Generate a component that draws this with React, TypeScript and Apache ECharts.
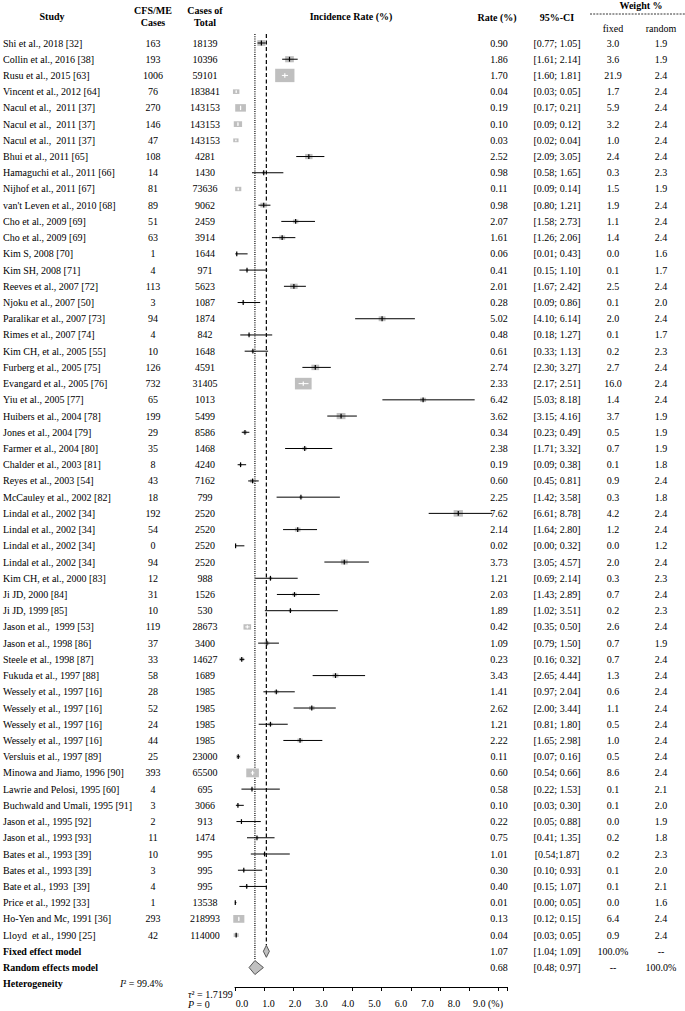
import React, { useEffect, useRef } from "react";
import * as echarts from "echarts";

// ---------------- data ----------------
const studies = [
  "Shi et al., 2018 [32]", "Collin et al., 2016 [38]", "Rusu et al., 2015 [63]", "Vincent et al., 2012 [64]",
  "Nacul et al.,  2011 [37]", "Nacul et al.,  2011 [37]", "Nacul et al.,  2011 [37]", "Bhui et al., 2011 [65]",
  "Hamaguchi et al., 2011 [66]", "Nijhof et al., 2011 [67]", "van't Leven et al., 2010 [68]", "Cho et al., 2009 [69]",
  "Cho et al., 2009 [69]", "Kim S, 2008 [70]", "Kim SH, 2008 [71]", "Reeves et al., 2007 [72]",
  "Njoku et al., 2007 [50]", "Paralikar et al., 2007 [73]", "Rimes et al., 2007 [74]", "Kim CH, et al., 2005 [55]",
  "Furberg et al., 2005 [75]", "Evangard et al., 2005 [76]", "Yiu et al., 2005 [77]", "Huibers et al., 2004 [78]",
  "Jones et al., 2004 [79]", "Farmer et al., 2004 [80]", "Chalder et al., 2003 [81]", "Reyes et al., 2003 [54]",
  "McCauley et al., 2002 [82]", "Lindal et al., 2002 [34]", "Lindal et al., 2002 [34]", "Lindal et al., 2002 [34]",
  "Lindal et al., 2002 [34]", "Kim CH, et al., 2000 [83]", "Ji JD, 2000 [84]", "Ji JD, 1999 [85]",
  "Jason et al.,  1999 [53]", "Jason et al., 1998 [86]", "Steele et al., 1998 [87]", "Fukuda et al., 1997 [88]",
  "Wessely et al., 1997 [16]", "Wessely et al., 1997 [16]", "Wessely et al., 1997 [16]", "Wessely et al., 1997 [16]",
  "Versluis et al., 1997 [89]", "Minowa and Jiamo, 1996 [90]", "Lawrie and Pelosi, 1995 [60]", "Buchwald and Umali, 1995 [91]",
  "Jason et al., 1995 [92]", "Jason et al., 1993 [93]", "Bates et al., 1993 [39]", "Bates et al., 1993 [39]",
  "Bate et al., 1993  [39]", "Price et al., 1992 [33]", "Ho-Yen and Mc, 1991 [36]", "Lloyd  et al., 1990 [25]",
];

const cfsCases = [163, 193, 1006, 76, 270, 146, 47, 108, 14, 81, 89, 51, 63, 1, 4, 113, 3, 94, 4, 10, 126, 732, 65, 199, 29, 35, 8, 43, 18, 192, 54, 0, 94, 12, 31, 10, 119, 37, 33, 58, 28, 52, 24, 44, 25, 393, 4, 3, 2, 11, 10, 3, 4, 1, 293, 42];

const totalCases = [18139, 10396, 59101, 183841, 143153, 143153, 143153, 4281, 1430, 73636, 9062, 2459, 3914, 1644, 971, 5623, 1087, 1874, 842, 1648, 4591, 31405, 1013, 5499, 8586, 1468, 4240, 7162, 799, 2520, 2520, 2520, 2520, 988, 1526, 530, 28673, 3400, 14627, 1689, 1985, 1985, 1985, 1985, 23000, 65500, 695, 3066, 913, 1474, 995, 995, 995, 13538, 218993, 114000];

const rates = [0.90, 1.86, 1.70, 0.04, 0.19, 0.10, 0.03, 2.52, 0.98, 0.11, 0.98, 2.07, 1.61, 0.06, 0.41, 2.01, 0.28, 5.02, 0.48, 0.61, 2.74, 2.33, 6.42, 3.62, 0.34, 2.38, 0.19, 0.60, 2.25, 7.62, 2.14, 0.02, 3.73, 1.21, 2.03, 1.89, 0.42, 1.09, 0.23, 3.43, 1.41, 2.62, 1.21, 2.22, 0.11, 0.60, 0.58, 0.10, 0.22, 0.75, 1.01, 0.30, 0.40, 0.01, 0.13, 0.04];

const ciLow = [0.77, 1.61, 1.60, 0.03, 0.17, 0.09, 0.02, 2.09, 0.58, 0.09, 0.80, 1.58, 1.26, 0.01, 0.15, 1.67, 0.09, 4.10, 0.18, 0.33, 2.30, 2.17, 5.03, 3.15, 0.23, 1.71, 0.09, 0.45, 1.42, 6.61, 1.64, 0.00, 3.05, 0.69, 1.43, 1.02, 0.35, 0.79, 0.16, 2.65, 0.97, 2.00, 0.81, 1.65, 0.07, 0.54, 0.22, 0.03, 0.05, 0.41, 0.54, 0.10, 0.15, 0.00, 0.12, 0.03];

const ciHigh = [1.05, 2.14, 1.81, 0.05, 0.21, 0.12, 0.04, 3.05, 1.65, 0.14, 1.21, 2.73, 2.06, 0.43, 1.10, 2.42, 0.86, 6.14, 1.27, 1.13, 3.27, 2.51, 8.18, 4.16, 0.49, 3.32, 0.38, 0.81, 3.58, 8.78, 2.80, 0.32, 4.57, 2.14, 2.89, 3.51, 0.50, 1.50, 0.32, 4.44, 2.04, 3.44, 1.80, 2.98, 0.16, 0.66, 1.53, 0.30, 0.88, 1.35, 1.87, 0.93, 1.07, 0.05, 0.15, 0.05];

const weightFixed = [3.0, 3.6, 21.9, 1.7, 5.9, 3.2, 1.0, 2.4, 0.3, 1.5, 1.9, 1.1, 1.4, 0.0, 0.1, 2.5, 0.1, 2.0, 0.1, 0.2, 2.7, 16.0, 1.4, 3.7, 0.5, 0.7, 0.1, 0.9, 0.3, 4.2, 1.2, 0.0, 2.0, 0.3, 0.7, 0.2, 2.6, 0.7, 0.7, 1.3, 0.6, 1.1, 0.5, 1.0, 0.5, 8.6, 0.1, 0.1, 0.0, 0.2, 0.2, 0.1, 0.1, 0.0, 6.4, 0.9];

const weightRandom = [1.9, 1.9, 2.4, 2.4, 2.4, 2.4, 2.4, 2.4, 2.3, 1.9, 2.4, 2.4, 2.4, 1.6, 1.7, 2.4, 2.0, 2.4, 1.7, 2.3, 2.4, 2.4, 2.4, 1.9, 1.9, 1.9, 1.8, 2.4, 1.8, 2.4, 2.4, 1.2, 2.4, 2.3, 2.4, 2.3, 2.4, 1.9, 2.4, 2.4, 2.4, 2.4, 2.4, 2.4, 2.4, 2.4, 2.1, 2.0, 1.9, 1.8, 2.3, 2.0, 2.1, 1.6, 2.4, 2.4];

const ciNoSpace = [50]; // "[0.54;1.87]" printed without space

const summaryLabels = ["Fixed effect model", "Random effects model"];
const summaryRates = [1.07, 0.68];
const summaryLow = [1.04, 0.48];
const summaryHigh = [1.09, 0.97];
const summaryWeightFixed = ["100.0%", "--"];
const summaryWeightRandom = ["--", "100.0%"];

const tickValues = [0, 1, 2, 3, 4, 5, 6, 7, 8, 9];
const tickLabels = ["0.0", "1.0", "2.0", "3.0", "4.0", "5.0", "6.0", "7.0", "8.0", "9.0 (%)"];

const heterogeneityI2 = "99.4%";
const heterogeneityTau2 = "1.7199";
const heterogeneityP = "0";

// ---------------- layout ----------------
const FAMILY = '"Liberation Serif", "Times New Roman", serif';
const FS = 10;
const X0 = 235;
const KX = 29.3;
const ROW0 = 43;
const ROWH = 16.22;
const YMIN = -1;
const AXIS_Y = 987;
const GRID_TOP = ROW0 - ROWH * (0 - YMIN);
const YMAX = YMIN + (AXIS_Y - GRID_TOP) / ROWH;
const AXIS_MAX = 9.3;
const LABEL_LEFT = 242;
const LABEL_STEP = 26.5;

const COL_STUDY = 3;
const COL_CFS = 153;
const COL_TOTAL = 205;
const COL_RATE = 499;
const COL_CI = 557;
const COL_WF = 613;
const COL_WR = 661;

function font(bold = false, italic = false) {
  return (italic ? "italic " : "") + (bold ? "bold " : "") + FS + "px " + FAMILY;
}

function fmtCI(i: number, lo: number, hi: number) {
  const sep = ciNoSpace.indexOf(i) >= 0 ? ";" : "; ";
  return "[" + lo.toFixed(2) + sep + hi.toFixed(2) + "]";
}

function t(x: number, y: number, text: string, align = "center", bold = false, extra: any = {}) {
  return {
    type: "text",
    x,
    y,
    silent: true,
    style: {
      text,
      fill: "#000",
      font: font(bold),
      align,
      verticalAlign: "middle",
      ...extra,
    },
  };
}

const italicRich = { i: { font: font(false, true), fill: "#000" } };

function buildOption() {
  const n = studies.length;
  const forestData = studies.map((_, i) => [rates[i], ciLow[i], ciHigh[i], weightFixed[i], i]);
  const diamondData = summaryRates.map((r, j) => [r, summaryLow[j], summaryHigh[j], n + j, j === 0 ? 6 : 7]);
  const refLineData = [
    [summaryRates[1], -0.55, n + 1 - 0.45, 0],
    [summaryRates[0], -0.55, n - 0.38, 1],
  ];
  const tableData = [] as number[][];
  for (let i = 0; i < n + 2; i++) tableData.push([0, i]);

  return {
    animation: false,
    backgroundColor: "#fff",
    textStyle: { fontFamily: FAMILY },
    grid: [
      { left: X0, top: GRID_TOP, width: AXIS_MAX * KX, height: AXIS_Y - GRID_TOP, containLabel: false, outerBoundsMode: "none", show: false },
      { left: LABEL_LEFT, top: 900, width: 9 * LABEL_STEP, height: AXIS_Y - 900, containLabel: false, outerBoundsMode: "none", show: false },
    ],
    xAxis: [
      {
        type: "value", gridIndex: 0, min: 0, max: AXIS_MAX, interval: 1, position: "bottom",
        axisLine: { show: true, onZero: false, lineStyle: { color: "#000", width: 1 } },
        axisTick: { show: true, length: 4, lineStyle: { color: "#000", width: 1 } },
        axisLabel: { show: false },
        splitLine: { show: false },
      },
      {
        type: "value", gridIndex: 1, min: 0, max: 9, interval: 1, position: "bottom",
        axisLine: { show: false, onZero: false }, axisTick: { show: false }, splitLine: { show: false },
        axisLabel: {
          show: true, margin: 11, color: "#000", fontFamily: FAMILY, fontSize: FS,
          formatter: (v: number) => {
            const k = tickValues.indexOf(Math.round(v));
            if (k < 0) return "";
            return k === tickValues.length - 1 ? "{pad|}" + tickLabels[k] : tickLabels[k];
          },
          rich: { pad: { width: 15 } },
        },
      },
    ],
    yAxis: [
      { type: "value", gridIndex: 0, inverse: true, min: YMIN, max: YMAX, show: false },
      { type: "value", gridIndex: 1, min: 0, max: 1, show: false },
    ],
    series: [
      // reference lines (random: dotted, fixed: dashed)
      {
        type: "custom", xAxisIndex: 0, yAxisIndex: 0, silent: true, clip: false,
        data: refLineData,
        renderItem: (params: any, api: any) => {
          const a = api.coord([api.value(0), api.value(1)]);
          const b = api.coord([api.value(0), api.value(2)]);
          const dotted = api.value(3) === 0;
          return {
            type: "line",
            shape: { x1: a[0], y1: a[1], x2: b[0], y2: b[1] },
            style: { stroke: "#000", lineWidth: 1.2, lineDash: dotted ? [1, 1.2] : [4, 2.5] },
          };
        },
      },
      // study squares and CIs
      {
        type: "custom", xAxisIndex: 0, yAxisIndex: 0, silent: true, clip: false,
        data: forestData,
        renderItem: (params: any, api: any) => {
          const est = api.value(0), lo = api.value(1), hi = api.value(2), w = api.value(3), row = api.value(4);
          const p = api.coord([est, row]);
          const pl = api.coord([lo, row]);
          const ph = api.coord([hi, row]);
          const bw = 1.5 + 3.8 * Math.sqrt(w);
          const bh = 1.2 + 2.6 * Math.sqrt(w);
          const inside = pl[0] >= p[0] - bw / 2 && ph[0] <= p[0] + bw / 2 && bw >= 5.2;
          const col = inside ? "#fff" : "#000";
          const th = inside ? Math.min(2.2, bh / 2 - 1) : 2.4;
          return {
            type: "group",
            children: [
              { type: "rect", shape: { x: p[0] - bw / 2, y: p[1] - bh / 2, width: bw, height: bh }, style: { fill: "#bfbfbf" } },
              { type: "line", shape: { x1: pl[0], y1: p[1], x2: ph[0], y2: p[1] }, style: { stroke: col, lineWidth: 1 } },
              { type: "line", shape: { x1: p[0], y1: p[1] - th, x2: p[0], y2: p[1] + th }, style: { stroke: col, lineWidth: 1.2 } },
            ],
          };
        },
      },
      // summary diamonds
      {
        type: "custom", xAxisIndex: 0, yAxisIndex: 0, silent: true, clip: false,
        data: diamondData,
        renderItem: (params: any, api: any) => {
          const row = api.value(3);
          const p = api.coord([api.value(0), row]);
          let l = api.coord([api.value(1), row])[0];
          let r = api.coord([api.value(2), row])[0];
          const hh = api.value(4);
          if (r - l < 6) { l = p[0] - 3; r = p[0] + 3; }
          return {
            type: "polygon",
            shape: { points: [[l, p[1]], [p[0], p[1] - hh], [r, p[1]], [p[0], p[1] + hh]] },
            style: { fill: "#c0c0c0", stroke: "#555", lineWidth: 1 },
          };
        },
      },
      // table text rows
      {
        type: "custom", xAxisIndex: 0, yAxisIndex: 0, silent: true, clip: false,
        data: tableData,
        renderItem: (params: any, api: any) => {
          const i = params.dataIndex;
          const y = api.coord([0, api.value(1)])[1];
          if (i < n) {
            return {
              type: "group",
              children: [
                t(COL_STUDY, y, studies[i], "left"),
                t(COL_CFS, y, String(cfsCases[i])),
                t(COL_TOTAL, y, String(totalCases[i])),
                t(COL_RATE, y, rates[i].toFixed(2)),
                t(COL_CI, y, fmtCI(i, ciLow[i], ciHigh[i])),
                t(COL_WF, y, weightFixed[i].toFixed(1)),
                t(COL_WR, y, weightRandom[i].toFixed(1)),
              ],
            };
          }
          const j = i - n;
          return {
            type: "group",
            children: [
              t(COL_STUDY, y, summaryLabels[j], "left", true),
              t(COL_RATE, y, summaryRates[j].toFixed(2)),
              t(COL_CI, y, "[" + summaryLow[j].toFixed(2) + "; " + summaryHigh[j].toFixed(2) + "]"),
              t(COL_WF, y, summaryWeightFixed[j]),
              t(COL_WR, y, summaryWeightRandom[j]),
            ],
          };
        },
      },
    ],
    graphic: [
      t(52, 16, "Study", "center", true),
      t(153, 10, "CFS/ME", "center", true),
      t(153, 22, "Cases", "center", true),
      t(205, 10, "Cases of", "center", true),
      t(205, 22, "Total", "center", true),
      t(351, 16, "Incidence Rate (%)", "center", true),
      t(497, 17, "Rate (%)", "center", true),
      t(557, 17, "95%-CI", "center", true),
      t(641, 5, "Weight %", "center", true),
      {
        type: "line", silent: true,
        shape: { x1: 590, y1: 14, x2: 685, y2: 14 },
        style: { stroke: "#000", lineWidth: 0.8, lineDash: [2, 1.2] },
      },
      t(COL_WF, 28, "fixed"),
      t(COL_WR, 28, "random"),
      t(COL_STUDY, ROW0 + (studies.length + 2) * ROWH, "Heterogeneity", "left", true),
      t(120, ROW0 + (studies.length + 2) * ROWH, "{i|I}² = " + heterogeneityI2, "left", false, { rich: italicRich }),
      t(188, 994, "{i|τ}² = " + heterogeneityTau2, "left", false, { rich: italicRich }),
      t(188, 1004, "{i|P} = " + heterogeneityP, "left", false, { rich: italicRich }),
    ],
  };
}

export default function App() {
  const ref = useRef<HTMLDivElement>(null);
  useEffect(() => {
    if (!ref.current) return;
    const chart = echarts.init(ref.current, null, { renderer: "svg" });
    chart.setOption(buildOption() as any);
    return () => chart.dispose();
  }, []);
  return (
    <div
      ref={ref}
      style={{ position: "absolute", left: 0, top: 0, width: 685, height: 1011, background: "#fff" }}
    />
  );
}
